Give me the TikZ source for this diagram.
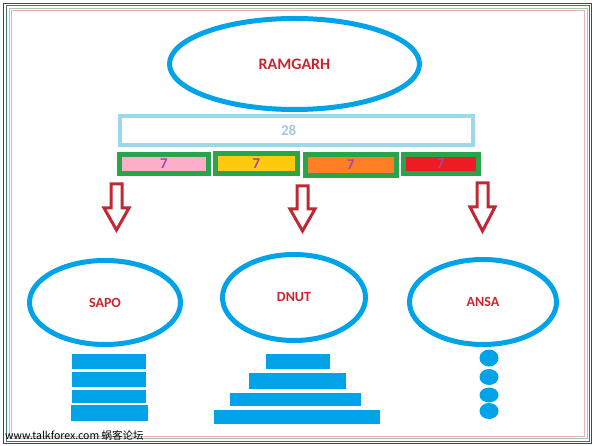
\documentclass[tikz,border=0pt]{standalone}
\usepackage{fontspec}
\setmainfont{Carlito}
\newfontfamily\cjkfont{Noto Sans CJK SC}
\usepackage{tikz}
\usetikzlibrary{shapes.geometric}
\usepackage{xcolor}
\definecolor{skyblue}{RGB}{0,162,232}
\definecolor{paleblue}{RGB}{153,217,234}
\definecolor{paletext}{RGB}{165,200,222}
\definecolor{labelred}{RGB}{205,35,45}
\definecolor{arrowred}{RGB}{192,40,52}
\definecolor{sharegreen}{RGB}{40,165,75}
\definecolor{sharepurple}{RGB}{163,73,164}
\definecolor{sharepink}{RGB}{255,174,201}
\definecolor{shareyellow}{RGB}{255,201,14}
\definecolor{shareorange}{RGB}{255,127,39}
\definecolor{sharered}{RGB}{237,28,36}
\definecolor{framenavy}{RGB}{60,72,95}
\definecolor{frameteal}{RGB}{60,120,110}
\definecolor{framegreen}{RGB}{165,205,165}
\definecolor{framepink}{RGB}{232,175,185}

\begin{document}
\begin{tikzpicture}[x=1pt,y=-1pt,
  oval/.style={ellipse,draw=skyblue,line width=5pt,text=labelred,inner sep=0pt,
    font=\bfseries\fontsize{14}{14}\selectfont},
  share/.style={draw=sharegreen,line width=5pt,fill=#1,text=sharepurple,inner sep=0pt,
    font=\bfseries\fontsize{15}{15}\selectfont},
  bar/.style={fill=skyblue},
  hollow/.style={draw=arrowred,line width=3pt}
  ]
\useasboundingbox (0,0) rectangle (596,446);
% frame
\draw[framenavy,line width=1.5pt] (3.5,3.5) rectangle (591.5,443.5);
\draw[frameteal,line width=1pt] (6,6) rectangle (589,441);
\draw[framegreen,line width=1pt] (9,9) rectangle (587,438.5);
\draw[framepink,line width=1pt] (11,11) rectangle (584.5,436);
% top
\node[oval,minimum width=250pt,minimum height=91pt,
  font=\bfseries\fontsize{16}{16}\selectfont] (ramgarh) at (294.5,64) {RAMGARH};
\node[draw=paleblue,line width=4pt,minimum width=352.7pt,minimum height=28.4pt,inner sep=0pt,
  label={[text=paletext,font=\bfseries\fontsize{15}{15}\selectfont,xshift=-8pt]center:28}]
  (total) at (296.7,130.5) {};
\node[share=sharepink,minimum width=89pt,minimum height=19.5pt] (s1) at (164,164) {7};
\node[share=shareyellow,minimum width=82.3pt,minimum height=19.7pt] (s2) at (256.3,163.3) {7};
\node[share=shareorange,minimum width=91pt,minimum height=20.7pt] (s3) at (350.7,165) {7};
\node[share=sharered,minimum width=75pt,minimum height=19pt] (s4) at (440.7,163.7) {7};
% arrows
\foreach \cx/\ty/\hy/\ey in {116.5/184/208/230, 302.5/186/209/231, 482.5/183/207/231}
  \draw[hollow] (\cx-5.5,\ty) -- (\cx+5.5,\ty) -- (\cx+5.5,\hy) -- (\cx+12.5,\hy)
    -- (\cx,\ey) -- (\cx-12.5,\hy) -- (\cx-5.5,\hy) -- cycle;
% bottom
\node[oval,minimum width=151pt,minimum height=84pt] (sapo) at (105,302.5) {SAPO};
\node[oval,minimum width=143pt,minimum height=86pt] (dnut) at (294,297.5) {DNUT};
\node[oval,minimum width=147pt,minimum height=85pt] (ansa) at (483,302) {ANSA};
\foreach \ya/\yb in {354/369,372/387,390/403}
  \fill[bar] (72,\ya) rectangle (146,\yb);
\fill[bar] (71,405) rectangle (148,421);
\foreach \xa/\ya/\xb/\yb in {266/354/330/369,249/373/346/389,230/393/361/406,214/410/380/424}
  \fill[bar] (\xa,\ya) rectangle (\xb,\yb);
\foreach \cy/\ry in {358/8.5,377/8,395/7.5,411/8}
  \fill[bar] (489,\cy) ellipse [x radius=9.5pt,y radius=\ry pt];
\node[anchor=west,inner sep=0pt,font=\cjkfont\fontsize{10.5}{10.5}\selectfont] (wm) at (5,435)
  {www.talkforex.com 蜗客论坛};
\end{tikzpicture}
\end{document}
